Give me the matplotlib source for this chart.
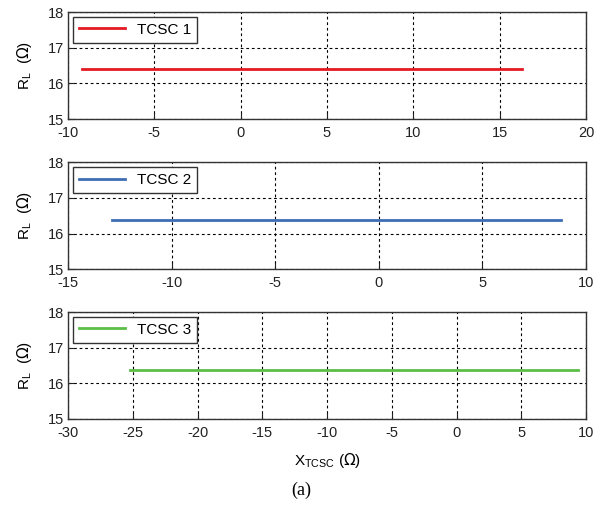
import matplotlib.pyplot as plt
import numpy as np

plt.rcParams['font.family'] = ['Liberation Sans', 'DejaVu Sans']
plt.rcParams['axes.unicode_minus'] = False

# data
labels = ['TCSC 1', 'TCSC 2', 'TCSC 3']
colors = ['#e31a22', '#3d6db5', '#5cbd47']
x_start = [-9.2, -12.9, -25.2]
x_end = [16.3, 8.8, 9.4]
r_l = [16.40, 16.38, 16.37]
xlims = [(-10, 20), (-15, 10), (-30, 10)]

fig = plt.figure(figsize=(6.03, 5.08), dpi=100)
bottoms = [0.7657, 0.4699, 0.1752]

for i in range(3):
    ax = fig.add_axes([0.1128, bottoms[i], 0.859, 0.2106])
    xs = np.array([x_start[i], x_end[i]])
    ax.plot(xs, [r_l[i], r_l[i]], color=colors[i], lw=2, label=labels[i])
    ax.set_xlim(xlims[i])
    ax.set_ylim(15, 18)
    ax.set_yticks([15, 16, 17, 18])
    ax.set_xticks(np.arange(xlims[i][0], xlims[i][1] + 1, 5))
    ax.grid(True, color='black', linestyle=(0, (2.5, 2.5)), linewidth=0.8)
    ax.tick_params(direction='in', length=4, labelsize=10.5, colors='#222222')
    ax.tick_params(axis='x', pad=5)
    ax.tick_params(axis='y', pad=3)
    for s in ax.spines.values():
        s.set_color('#333333')
        s.set_linewidth(1)
    ax.set_ylabel(r'R$_\mathregular{L}$  ($\Omega$)', fontsize=11, labelpad=10)
    leg = ax.legend(loc='upper left', fontsize=11, fancybox=False, framealpha=1,
                    handlelength=3.0, borderaxespad=0.3, borderpad=0.4)
    leg.get_frame().set_edgecolor('#333333')
    leg.get_frame().set_linewidth(1)
    if i == 2:
        ax.set_xlabel(r'X$_\mathregular{TCSC}$ ($\Omega$)', fontsize=11, labelpad=8)

fig.text(0.5, 0.025, '(a)', ha='center', fontsize=13, family='Liberation Serif')

fig.savefig('out.png', dpi=100)
